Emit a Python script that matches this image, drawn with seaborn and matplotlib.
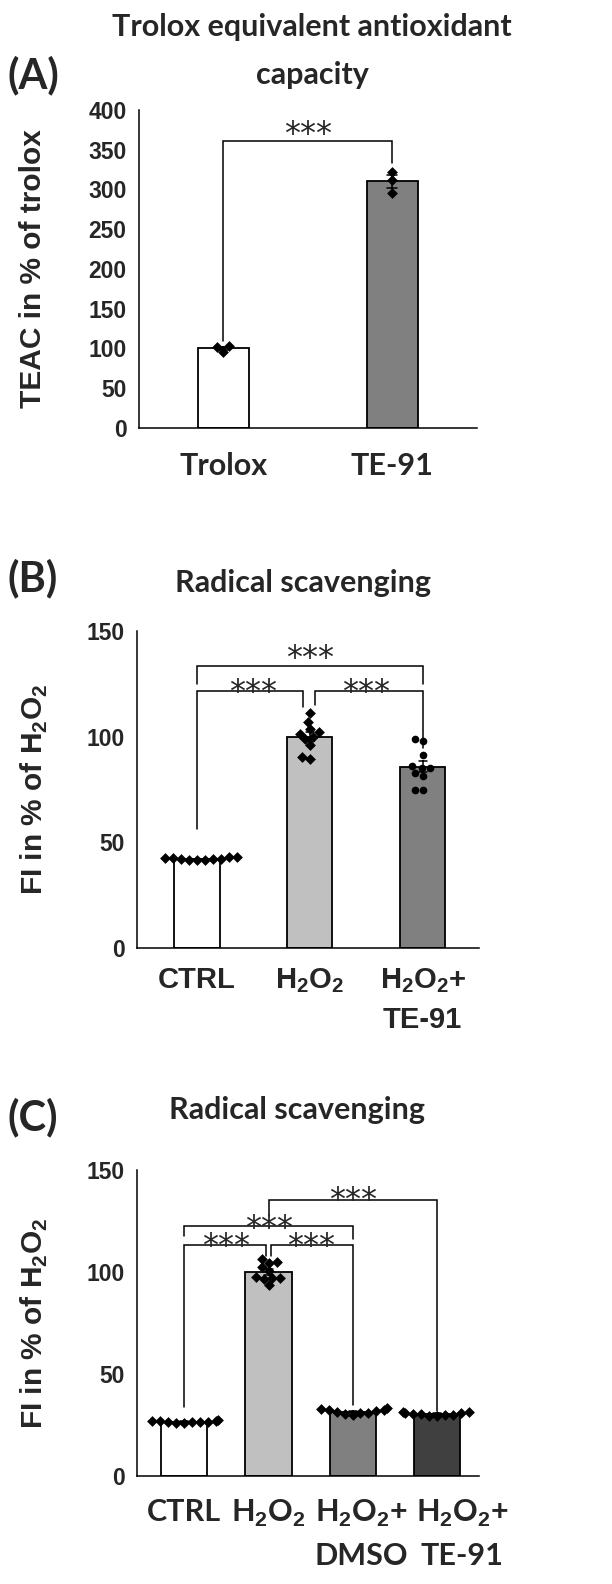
import numpy as np
import pandas as pd
import matplotlib
matplotlib.use('Agg')
import matplotlib.pyplot as plt
import matplotlib.transforms as mtransforms
import seaborn as sns

# ---------------- data ----------------
# (A) Trolox equivalent antioxidant capacity
a_groups = ['Trolox', 'TE-91']
a_trolox = [102.0, 95.5, 102.5]
a_te91 = [322.0, 312.0, 296.0]
a_labels = ['Trolox', 'TE-91']
a_colors = ['white', '#808080']
a_markers = ['D', 'D']
a_yticks = [0, 50, 100, 150, 200, 250, 300, 350, 400]
# (i, j, line y, left leg end, right leg end, star baseline, left dx, right dx)
a_brackets = [(0, 1, 361, 110, 333, 358, 0, 0)]

# (B) Radical scavenging
b_groups = ['CTRL', 'H2O2', 'H2O2+TE-91']
b_ctrl = [42.5, 41.8, 42.9, 41.5, 42.2, 43.0, 41.9, 42.4, 41.6, 42.2]
b_h2o2 = [111.4, 107.0, 103.5, 102.0, 99.7, 99.0, 96.0, 90.5, 89.4, 101.5]
b_te91 = [98.0, 98.9, 91.3, 85.0, 85.0, 82.6, 81.4, 75.0, 75.0, 86.0]
b_labels = ['CTRL', r'H$_\mathbf{2}$O$_\mathbf{2}$', 'H$_\\mathbf{2}$O$_\\mathbf{2}$+\nTE-91']
b_colors = ['white', '#c0c0c0', '#808080']
b_markers = ['D', 'D', 'o']
b_yticks = [0, 50, 100, 150]
b_brackets = [(0, 1, 121.8, 56.5, 114, 116.8, 0, -0.06),
              (1, 2, 121.8, 115, 94.5, 116.8, 0.045, 0),
              (0, 2, 133.6, 125, 125, 133.0, 0, 0)]

# (C) Radical scavenging
c_groups = ['CTRL', 'H2O2', 'H2O2+DMSO', 'H2O2+TE-91']
c_ctrl = [26.0, 27.2, 26.5, 27.0, 26.2, 26.9, 26.4, 27.1, 26.3, 26.4]
c_h2o2 = [106.5, 104.5, 104.8, 102.5, 100.5, 97.4, 97.0, 96.5, 96.8, 93.5]
c_dmso = [31.0, 32.8, 30.5, 33.2, 31.5, 29.8, 32.2, 31.9, 30.9, 32.2]
c_te91 = [30.9, 29.6, 31.2, 29.3, 30.5, 30.0, 31.4, 29.8, 30.7, 30.6]
c_labels = ['CTRL', r'H$_\mathbf{2}$O$_\mathbf{2}$',
            'H$_\\mathbf{2}$O$_\\mathbf{2}$+\nDMSO', 'H$_\\mathbf{2}$O$_\\mathbf{2}$+\nTE-91']
c_colors = ['white', '#c0c0c0', '#808080', '#404040']
c_markers = ['D', 'D', 'D', 'D']
c_yticks = [0, 50, 100, 150]
c_brackets = [(0, 1, 113.2, 34, 108, 108.1, 0, -0.035),
              (1, 2, 113.2, 108, 35, 108.1, 0.025, 0),
              (0, 2, 122.3, 117.5, 116.2, 117.2, 0, 0),
              (1, 3, 135.4, 127.6, 31.8, 131.1, 0, 0)]

sns.set_style('white')
plt.rcParams['font.family'] = ['Liberation Sans', 'DejaVu Sans']
plt.rcParams['mathtext.fontset'] = 'custom'
plt.rcParams['mathtext.rm'] = 'Liberation Sans'
plt.rcParams['mathtext.bf'] = 'Liberation Sans:bold'

fig = plt.figure(figsize=(6.12, 15.84), dpi=100)


def panel(rect, groups, values, colors, markers, width, capsize, ymax, yticks,
          xlabels, xfont, xsize, xpad, xspacing, ylabel, brackets):
    ax = fig.add_axes(rect)
    df = pd.DataFrame({'group': np.repeat(groups, [len(v) for v in values]),
                       'value': np.concatenate(values)})
    sns.barplot(data=df, x='group', y='value', order=groups, hue='group',
                hue_order=groups, palette=colors, legend=False,
                errorbar='se', capsize=capsize, width=width,
                edgecolor='black', linewidth=1.3,
                err_kws={'color': 'black', 'linewidth': 1.1}, ax=ax)
    for g, m in zip(groups, markers):
        sns.swarmplot(data=df[df['group'] == g], x='group', y='value',
                      order=groups, color='black', marker=m, size=5.5,
                      ax=ax, warn_thresh=1)
    for i, j, y, yl, yr, ys, dl, dr in brackets:
        xl, xr = i + dl, j + dr
        ax.plot([xl, xl, xr, xr], [yl, y, y, yr], color='black', lw=1.1,
                solid_joinstyle='miter', clip_on=False)
        ax.text((i + j) / 2, ys, '***', ha='center', va='baseline',
                fontsize=23, family='DejaVu Sans', clip_on=False)
    ax.set_xlim(-0.53, len(groups) - 0.5)
    ax.set_ylim(0, ymax)
    ax.set_yticks(yticks)
    ax.set_yticklabels([str(t) for t in yticks], fontsize=16.5, fontweight='bold')
    ax.set_xticks(range(len(groups)))
    ax.set_xticklabels(xlabels, fontsize=xsize, fontweight='bold',
                       family=[xfont, 'DejaVu Sans'], linespacing=xspacing)
    ax.tick_params(axis='y', length=4, width=1, pad=5, direction='out')
    ax.tick_params(axis='x', length=5, width=1, pad=xpad, direction='out')
    ax.set_xlabel('')
    ax.set_ylabel(ylabel, fontsize=21.5, fontweight='bold')
    sns.despine(ax=ax)
    for s in ['left', 'bottom']:
        ax.spines[s].set_linewidth(1.1)
        ax.spines[s].set_color('black')
    return ax


axA = panel([0.227, 0.7298, 0.552, 0.2008], a_groups, [a_trolox, a_te91],
            a_colors, a_markers, 0.3, 0.06, 400, a_yticks, a_labels,
            'Lato', 22, 12, 1.2, 'TEAC in % of trolox', a_brackets)
axA.set_xlim(-0.5, 1.5)
axA.yaxis.set_label_coords(-0.272, 0.5)

axB = panel([0.224, 0.4015, 0.559, 0.2001], b_groups, [b_ctrl, b_h2o2, b_te91],
            b_colors, b_markers, 0.4, 0.07, 150, b_yticks, b_labels,
            'Liberation Sans', 21, 8, 1.5, r'FI in % of H$_\mathbf{2}$O$_\mathbf{2}$', b_brackets)
axB.yaxis.set_label_coords(-0.254, 0.5)

axC = panel([0.224, 0.0682, 0.559, 0.1932], c_groups, [c_ctrl, c_h2o2, c_dmso, c_te91],
            c_colors, c_markers, 0.55, 0.1, 150, c_yticks, c_labels,
            'Lato', 22, 11, 1.55, r'FI in % of H$_\mathbf{2}$O$_\mathbf{2}$', c_brackets)
axC.set_xlim(-0.56, 3.5)
axC.yaxis.set_label_coords(-0.254, 0.5)
# the two right labels of (C) sit a little to the right of their ticks
for lab, dx in zip(axC.get_xticklabels()[2:], [0.08, 0.25]):
    lab.set_transform(lab.get_transform() +
                      mtransforms.ScaledTranslation(dx, 0, fig.dpi_scale_trans))

# titles and panel letters
tfont = dict(family=['Lato', 'DejaVu Sans'], fontweight='bold', ha='center', va='center')
fig.text(0.51, 0.983, 'Trolox equivalent antioxidant', fontsize=22, **tfont)
fig.text(0.51, 0.9527, 'capacity', fontsize=22, **tfont)
fig.text(0.495, 0.632, 'Radical scavenging', fontsize=22, **tfont)
fig.text(0.485, 0.2995, 'Radical scavenging', fontsize=22, **tfont)
fig.text(0.054, 0.9527, '(A)', fontsize=30, **tfont)
fig.text(0.054, 0.6351, '(B)', fontsize=30, **tfont)
fig.text(0.054, 0.2945, '(C)', fontsize=30, **tfont)

fig.savefig('out.png', dpi=100, facecolor='white')
